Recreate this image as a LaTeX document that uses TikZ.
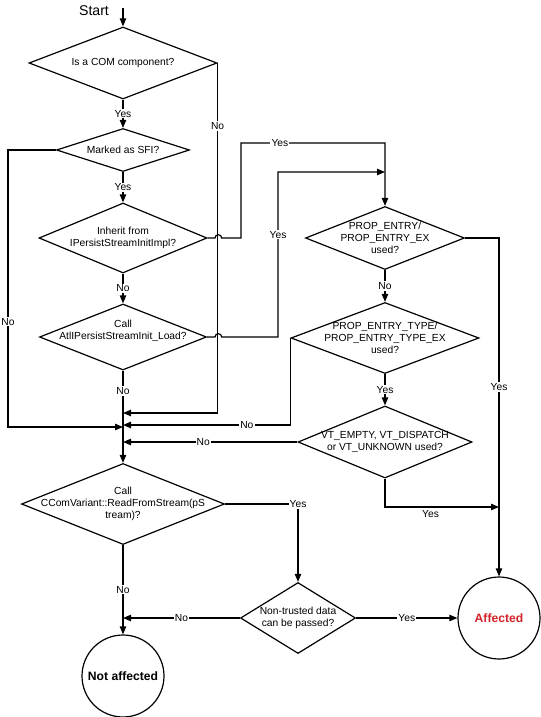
\documentclass[tikz,border=0pt]{standalone}
\usepackage{fontspec}
\setmainfont{Liberation Sans}
\usetikzlibrary{shapes.geometric, arrows.meta}
\definecolor{affectedred}{RGB}{210,35,42}
\tikzset{
  decision/.style={diamond, draw, line width=0.9pt, inner sep=0pt},
  endpoint/.style={circle, draw, line width=0.9pt, minimum size=61.5pt, inner sep=0pt,
    font=\fontsize{9.1}{11}\selectfont\bfseries},
  txt/.style={align=center, inner sep=0pt},
  flow/.style={line width=0.9pt, -{Triangle[length=6pt,width=4.8pt]}},
  lbl/.style={fill=white, inner sep=0.8pt}
}
\begin{document}
\begin{tikzpicture}[x=0.75pt, y=-0.75pt, font=\fontsize{7.7}{9.2}\selectfont]
  \useasboundingbox (0,0) rectangle (540,717);

  % Left column
  \node[font=\fontsize{10.6}{12}\selectfont] (start) at (94,11) {Start};
  \coordinate (s0) at (123,8);
  \node[decision, minimum width=141pt, minimum height=54pt,
    label={[txt]center:Is a COM component?}] (d1) at (123,63) {};
  \node[decision, minimum width=99.75pt, minimum height=32.25pt,
    label={[txt]center:Marked as SFI?}] (d2) at (123,150) {};
  \node[decision, minimum width=126pt, minimum height=52.5pt,
    label={[txt]center:{Inherit from\\IPersistStreamInitImpl?}}] (d3) at (123,238) {};
  \node[decision, minimum width=125.25pt, minimum height=49.5pt,
    label={[txt, yshift=4.5pt]center:{Call\\AtlIPersistStreamInit\_Load?}}] (d4) at (123,337) {};
  \node[decision, minimum width=152.25pt, minimum height=60.75pt,
    label={[txt]center:{Call\\CComVariant::ReadFromStream(pS\\tream)?}}] (d8) at (123,504) {};
  \node[endpoint] (c1) at (123,676) {Not affected};

  % Right column
  \node[decision, minimum width=119.25pt, minimum height=47.25pt,
    label={[txt]center:{PROP\_ENTRY/\\PROP\_ENTRY\_EX\\used?}}] (d5) at (385,238) {};
  \node[decision, minimum width=141pt, minimum height=53.25pt,
    label={[txt]center:{PROP\_ENTRY\_TYPE/\\PROP\_ENTRY\_TYPE\_EX\\used?}}] (d6) at (385,338) {};
  \node[decision, minimum width=130.5pt, minimum height=54pt,
    label={[txt]center:{VT\_EMPTY, VT\_DISPATCH\\or VT\_UNKNOWN used?}}] (d7) at (385,442) {};
  \node[decision, minimum width=86.25pt, minimum height=53.25pt,
    label={[txt]center:{Non-trusted data\\can be passed?}}] (d9) at (298,618) {};
  \node[endpoint, text=affectedred] (c2) at (499,618) {Affected};

  % Bends and joins
  \coordinate (j1) at (123,413);
  \coordinate (lft) at (8,427);
  \coordinate (j2) at (123,427);
  \coordinate (j3) at (123,425);
  \coordinate (b3) at (241,143);
  \coordinate (b4) at (278,172);
  \coordinate (j5) at (385,172);
  \coordinate (j6) at (499,507);

  % Connectors
  \draw[flow] (s0) -- (d1.north);
  \draw[flow] (d1.south) -- node[lbl]{Yes} (d2.north);
  \draw[flow] (d2.south) -- node[lbl]{Yes} (d3.north);
  \draw[flow] (d3.south) -- node[lbl]{No} (d4.north);
  \draw[flow] (d4.south) -- node[lbl, pos=0.22]{No} (d8.north);
  \draw[flow] (d1.east) |- node[lbl, pos=0.09]{No} (j1);
  \draw[flow] (d2.west) -| node[lbl, pos=0.81]{No} (lft) -- (j2);
  \draw[flow] (d3.east) -- (215,238) arc[start angle=180, end angle=0, radius=2.5pt]
    -| (b3) -| node[lbl, pos=0.135]{Yes} (d5.north);
  \draw[flow] (d4.east) -- (215,337) arc[start angle=180, end angle=0, radius=2.5pt]
    -| node[lbl, pos=0.81]{Yes} (b4) -- (j5);
  \draw[flow] (d5.south) -- node[lbl]{No} (d6.north);
  \draw[flow] (d5.east) -| node[lbl, pos=0.72]{Yes} (c2.north);
  \draw[flow] (d6.south) -- node[lbl]{Yes} (d7.north);
  \draw[flow] (d6.west) |- node[lbl, pos=0.63]{No} (j3);
  \draw[flow] (d7.west) -- node[lbl, pos=0.54]{No} (d7.west -| d8.north);
  \draw[flow] (d7.south) |- node[below, pos=0.7, inner sep=2pt]{Yes} (j6);
  \draw[flow] (d8.east) -| node[lbl, pos=0.5]{Yes} (d9.north);
  \draw[flow] (d8.south) -- node[lbl]{No} (c1.north);
  \draw[flow] (d9.west) -- node[lbl]{No} (d9.west -| c1.north);
  \draw[flow] (d9.east) -- node[lbl]{Yes} (c2.west);
\end{tikzpicture}
\end{document}
